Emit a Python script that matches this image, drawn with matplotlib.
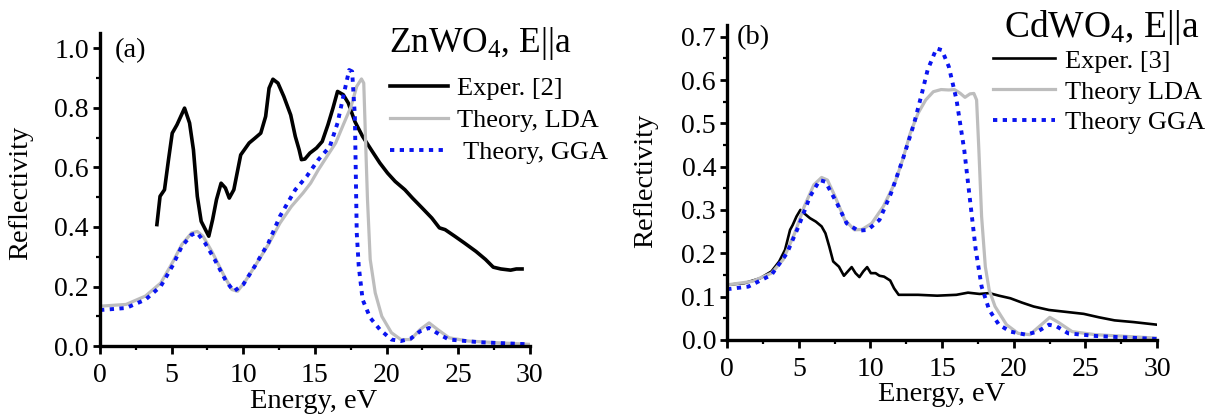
import matplotlib
matplotlib.use("Agg")
import matplotlib.pyplot as plt
from matplotlib.ticker import MultipleLocator, FormatStrFormatter

plt.rcParams["font.family"] = ["Liberation Serif", "DejaVu Serif"]
plt.rcParams["mathtext.fontset"] = "custom"
plt.rcParams["mathtext.rm"] = "Liberation Serif"
plt.rcParams["mathtext.it"] = "Liberation Serif:italic"

# ---- ZnWO4, E||a ----
zn_exp_e = [3.97, 4.19, 4.5, 4.78, 5.04, 5.37, 5.9, 6.25, 6.52, 6.79, 7.06, 7.59, 7.86, 8.13,
            8.45, 8.75, 9.02, 9.34, 9.82, 10.41, 10.81, 11.22, 11.56, 11.8, 12.07, 12.42,
            12.83, 13.31, 13.63, 13.9, 14.06, 14.3, 14.65, 15.11, 15.51, 15.91, 16.26,
            16.58, 16.98, 17.33, 17.79, 18.33, 19.0, 19.53, 20.07, 20.6, 21.28, 21.81,
            22.48, 23.16, 23.69, 24.09, 24.76, 25.44, 26.24, 26.91, 27.45, 27.98, 28.66,
            29.06, 29.46]
zn_exp_r = [0.408, 0.503, 0.525, 0.626, 0.715, 0.743, 0.799, 0.749, 0.659, 0.503, 0.419,
            0.369, 0.425, 0.492, 0.547, 0.531, 0.497, 0.525, 0.642, 0.682, 0.698, 0.715,
            0.771, 0.866, 0.896, 0.883, 0.838, 0.776, 0.704, 0.659, 0.626, 0.628, 0.648,
            0.665, 0.687, 0.743, 0.799, 0.855, 0.844, 0.816, 0.754, 0.704, 0.654, 0.615,
            0.581, 0.553, 0.525, 0.497, 0.464, 0.430, 0.397, 0.391, 0.369, 0.346, 0.318,
            0.291, 0.265, 0.259, 0.255, 0.259, 0.259]

zn_lda_e = [0, 1.82, 3.17, 4.24, 5.04, 5.71, 6.39, 6.79, 7.19, 7.86, 8.67, 9.2, 9.6, 10.14,
            10.95, 11.75, 12.56, 13.36, 14.17, 14.7, 15.24, 15.91, 16.45, 16.98, 17.52,
            17.92, 18.25, 18.41, 18.52, 18.67, 18.86, 19.21, 19.67, 20.34, 21.0, 21.68,
            22.35, 22.97, 23.56, 24.36, 25.7, 27.85, 30.0]
zn_lda_r = [0.134, 0.14, 0.168, 0.212, 0.279, 0.341, 0.38, 0.385, 0.369, 0.313, 0.235,
            0.19, 0.184, 0.218, 0.279, 0.341, 0.413, 0.469, 0.514, 0.547, 0.592, 0.642,
            0.682, 0.743, 0.804, 0.872, 0.897, 0.883, 0.715, 0.492, 0.291, 0.179, 0.1,
            0.045, 0.022, 0.022, 0.056, 0.078, 0.056, 0.028, 0.017, 0.011, 0.006]

zn_gga_e = [0, 1.82, 3.17, 4.24, 5.04, 5.71, 6.39, 6.79, 7.33, 8.0, 8.8, 9.34, 10.0, 10.8,
            11.75, 12.56, 13.63, 14.43, 15.24, 16.04, 16.58, 16.98, 17.39, 17.6, 17.79,
            17.92, 18.06, 18.33, 18.86, 19.53, 20.34, 21.0, 21.68, 22.35, 22.97, 23.69,
            24.36, 26.5, 30.0]
zn_gga_r = [0.121, 0.128, 0.156, 0.201, 0.268, 0.335, 0.374, 0.38, 0.346, 0.291, 0.218,
            0.184, 0.207, 0.268, 0.346, 0.436, 0.525, 0.57, 0.626, 0.67, 0.749, 0.838,
            0.927, 0.922, 0.771, 0.38, 0.268, 0.156, 0.095, 0.056, 0.022, 0.017, 0.025,
            0.05, 0.061, 0.039, 0.022, 0.013, 0.006]

# ---- CdWO4, E||a ----
cd_exp_e = [0, 1.21, 2.29, 3.09, 3.63, 4.04, 4.39, 4.57, 4.84, 5.11, 5.38, 5.78, 6.19,
            6.59, 6.86, 7.13, 7.4, 7.8, 8.15, 8.42, 8.69, 8.96, 9.23, 9.5, 9.77, 10.03,
            10.36, 10.63, 10.95, 11.38, 11.65, 11.97, 13.32, 14.66, 16.0, 16.81, 17.62,
            18.29, 18.97, 19.77, 20.58, 21.39, 22.46, 23.54, 24.89, 25.96, 27.04, 28.38,
            30.0]
cd_exp_r = [0.127, 0.131, 0.142, 0.158, 0.181, 0.208, 0.254, 0.265, 0.285, 0.3, 0.292,
            0.281, 0.273, 0.262, 0.246, 0.215, 0.181, 0.169, 0.148, 0.158, 0.168, 0.154,
            0.145, 0.158, 0.168, 0.154, 0.154, 0.148, 0.146, 0.137, 0.119, 0.104, 0.104,
            0.102, 0.104, 0.109, 0.106, 0.108, 0.102, 0.096, 0.086, 0.077, 0.069, 0.065,
            0.06, 0.052, 0.045, 0.041, 0.035]

cd_lda_e = [0, 1.75, 3.09, 3.9, 4.71, 5.38, 6.05, 6.59, 7.0, 7.53, 8.21, 8.88, 9.42,
            10.09, 10.9, 11.7, 12.24, 12.78, 13.32, 13.86, 14.39, 14.93, 15.47, 15.87,
            16.28, 16.6, 16.95, 17.22, 17.41, 17.57, 17.76, 18.02, 18.29, 18.7, 19.5,
            20.31, 21.12, 21.93, 22.52, 23.14, 24.08, 25.69, 30.0]
cd_lda_r = [0.127, 0.135, 0.154, 0.185, 0.246, 0.308, 0.358, 0.375, 0.369, 0.331, 0.277,
            0.254, 0.255, 0.269, 0.308, 0.362, 0.415, 0.477, 0.523, 0.554, 0.573, 0.578,
            0.577, 0.578, 0.569, 0.56, 0.568, 0.569, 0.554, 0.438, 0.285, 0.169, 0.115,
            0.077, 0.035, 0.015, 0.012, 0.035, 0.052, 0.04, 0.019, 0.012, 0.004]

cd_gga_e = [0, 1.48, 3.09, 4.17, 4.98, 5.78, 6.46, 6.86, 7.67, 8.34, 9.15, 9.82, 10.63,
            11.43, 12.24, 13.05, 13.59, 13.99, 14.61, 14.99, 15.47, 16.01, 16.55, 16.95,
            17.35, 17.76, 18.29, 18.97, 19.77, 20.85, 21.66, 22.46, 23.0, 23.81, 25.69,
            30.0]
cd_gga_r = [0.117, 0.123, 0.15, 0.2, 0.262, 0.331, 0.369, 0.365, 0.315, 0.269, 0.252,
            0.254, 0.277, 0.338, 0.415, 0.5, 0.569, 0.623, 0.673, 0.669, 0.631, 0.554,
            0.438, 0.323, 0.208, 0.123, 0.069, 0.035, 0.019, 0.012, 0.019, 0.035, 0.031,
            0.015, 0.009, 0.002]

GRAY = "#bdbdbd"
BLUE = "#0a14f0"
DOTS = (0, (1.1, 1.4))

fig = plt.figure(figsize=(12.14, 4.17), dpi=100)
ax_a = fig.add_axes([0.0824, 0.170, 0.354, 0.750])
ax_b = fig.add_axes([0.599, 0.185, 0.354, 0.755])


def style_axes(ax, ymax, ymajor, yminor, xlab_y, ylab_x, ylab_y):
    ax.set_xlim(0, 30)
    ax.set_ylim(0, ymax)
    for side in ("top", "right"):
        ax.spines[side].set_visible(False)
    for side in ("left", "bottom"):
        ax.spines[side].set_linewidth(2.4)
    ax.xaxis.set_major_locator(MultipleLocator(5))
    ax.xaxis.set_minor_locator(MultipleLocator(2.5))
    ax.yaxis.set_major_locator(MultipleLocator(ymajor))
    ax.yaxis.set_minor_locator(MultipleLocator(yminor))
    ax.yaxis.set_major_formatter(FormatStrFormatter("%.1f"))
    ax.tick_params(axis="both", which="major", direction="out", width=2.0,
                   labelsize=20)
    ax.tick_params(axis="x", which="major", length=6, pad=6)
    ax.tick_params(axis="y", which="major", length=5, pad=3)
    ax.tick_params(axis="both", which="minor", direction="out", width=1.6, length=3)
    ax.set_xlabel("Energy, eV", fontsize=20.5)
    ax.set_ylabel("Reflectivity", fontsize=20.5)
    ax.xaxis.set_label_coords(0.498, xlab_y)
    ax.yaxis.set_label_coords(ylab_x, ylab_y)


# Panel (a)
ax_a.plot(zn_exp_e, zn_exp_r, color="black", lw=2.6, label="Exper. [2]",
          solid_joinstyle="round")
ax_a.plot(zn_lda_e, zn_lda_r, color=GRAY, lw=2.3, label="Theory, LDA")
ax_a.plot(zn_gga_e, zn_gga_r, color=BLUE, lw=2.8, linestyle=DOTS,
          label=" Theory, GGA")
style_axes(ax_a, 1.05, 0.2, 0.1, -0.138, -0.156, 0.49)
ax_a.text(0.035, 0.985, "(a)", transform=ax_a.transAxes, fontsize=20.5,
          ha="left", va="top")
ax_a.text(0.672, 0.940, "ZnWO$_4$, E||a", transform=ax_a.transAxes, fontsize=25.5,
          ha="left", va="baseline")
ax_a.legend(loc="upper left", bbox_to_anchor=(0.674, 0.862), frameon=False,
            fontsize=19, handlelength=2.2, handletextpad=0.34, labelspacing=0.32,
            borderpad=0.0, borderaxespad=0.0)

# Panel (b)
ax_b.plot(cd_exp_e, cd_exp_r, color="black", lw=1.9, label="Exper. [3]",
          solid_joinstyle="round")
ax_b.plot(cd_lda_e, cd_lda_r, color=GRAY, lw=2.3, label="Theory LDA")
ax_b.plot(cd_gga_e, cd_gga_r, color=BLUE, lw=2.8, linestyle=DOTS,
          label="Theory GGA")
style_axes(ax_b, 0.727, 0.1, 0.05, -0.133, -0.160, 0.505)
ax_b.text(0.023, 1.0, "(b)", transform=ax_b.transAxes, fontsize=20.5,
          ha="left", va="top")
ax_b.text(0.645, 0.962, "CdWO$_4$, E||a", transform=ax_b.transAxes, fontsize=27,
          ha="left", va="baseline")
ax_b.legend(loc="upper left", bbox_to_anchor=(0.619, 0.923), frameon=False,
            fontsize=19, handlelength=2.35, handletextpad=0.38, labelspacing=0.28,
            borderpad=0.0, borderaxespad=0.0)

fig.savefig("out.png", dpi=100)
